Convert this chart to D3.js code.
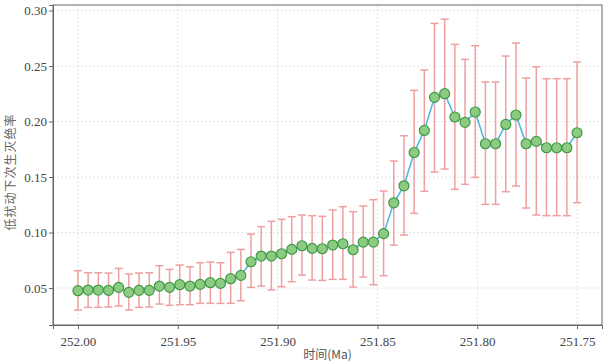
<!DOCTYPE html>
<html>
<head>
<meta charset="utf-8">
<script src="https://cdn.jsdelivr.net/npm/d3@7"></script>
<style>
  body { margin: 0; background: #fff; }
  svg { display: block; }
</style>
</head>
<body>
<div id="chart_root"></div>
<script>
// time (Ma), mean rate and error bar bounds
const times = [252.0000, 251.9949, 251.9898, 251.9847, 251.9796, 251.9745, 251.9694, 251.9643, 251.9592, 251.9541,
    251.9490, 251.9439, 251.9388, 251.9337, 251.9286, 251.9235, 251.9184, 251.9133, 251.9082, 251.9031,
    251.8980, 251.8929, 251.8878, 251.8827, 251.8776, 251.8724, 251.8673, 251.8622, 251.8571, 251.8520,
    251.8469, 251.8418, 251.8367, 251.8316, 251.8265, 251.8214, 251.8163, 251.8112, 251.8061, 251.8010,
    251.7959, 251.7908, 251.7857, 251.7806, 251.7755, 251.7704, 251.7653, 251.7602, 251.7551, 251.7500];
const rates = [0.0476, 0.0482, 0.0482, 0.0479, 0.0506, 0.0461, 0.0479, 0.0479, 0.0518, 0.0506,
    0.0530, 0.0518, 0.0533, 0.0548, 0.0542, 0.0584, 0.0614, 0.0737, 0.0788, 0.0788,
    0.0809, 0.0848, 0.0881, 0.0857, 0.0854, 0.0887, 0.0899, 0.0845, 0.0914, 0.0914,
    0.0990, 0.1268, 0.1421, 0.1721, 0.1920, 0.2218, 0.2251, 0.2041, 0.1993, 0.2086,
    0.1800, 0.1800, 0.1974, 0.2059, 0.1800, 0.1821, 0.1764, 0.1764, 0.1764, 0.1899];
const upper = [0.0656, 0.0638, 0.0638, 0.0635, 0.0677, 0.0626, 0.0635, 0.0638, 0.0701, 0.0668,
    0.0707, 0.0692, 0.0728, 0.0734, 0.0728, 0.0821, 0.0848, 0.0986, 0.1053, 0.1101,
    0.1119, 0.1143, 0.1158, 0.1152, 0.1146, 0.1203, 0.1233, 0.1188, 0.1239, 0.1296,
    0.1374, 0.1644, 0.1872, 0.2281, 0.2464, 0.2884, 0.2923, 0.2695, 0.2560, 0.2683,
    0.2356, 0.2356, 0.2590, 0.2707, 0.2392, 0.2494, 0.2386, 0.2386, 0.2386, 0.2536];
const lower = [0.0302, 0.0326, 0.0326, 0.0329, 0.0338, 0.0302, 0.0326, 0.0329, 0.0356, 0.0344,
    0.0350, 0.0350, 0.0362, 0.0362, 0.0362, 0.0362, 0.0386, 0.0506, 0.0518, 0.0482,
    0.0512, 0.0557, 0.0617, 0.0572, 0.0569, 0.0578, 0.0578, 0.0509, 0.0599, 0.0530,
    0.0611, 0.0886, 0.0977, 0.1173, 0.1371, 0.1545, 0.1572, 0.1389, 0.1434, 0.1497,
    0.1254, 0.1254, 0.1368, 0.1419, 0.1221, 0.1158, 0.1152, 0.1152, 0.1152, 0.1269];
const xTicks = [252.00, 251.95, 251.90, 251.85, 251.80, 251.75];
const yTicks = [0.05, 0.10, 0.15, 0.20, 0.25, 0.30];

const margin = { top: 5, right: 5, bottom: 39, left: 53 };
const width = 607 - margin.left - margin.right;
const height = 364 - margin.top - margin.bottom;
const serif = "'Liberation Serif', 'DejaVu Serif', serif";
const cjk = "'Noto Sans CJK SC', sans-serif";

const data = times.map((t, i) => ({ t: t, v: rates[i], lo: lower[i], hi: upper[i] }));

const svg = d3.select("#chart_root")
    .append("svg")
    .attr("width", 607)
    .attr("height", 364)
    .append("g")
    .attr("transform", "translate(" + margin.left + "," + margin.top + ")");

// reversed time axis
const x = d3.scaleLinear()
    .domain([252.0125, 251.7375])
    .range([0, width]);
const y = d3.scaleLinear()
    .domain([0.0167, 0.3050])
    .range([height, 0]);

// dashed grid
svg.append("g")
    .selectAll("line.gy")
    .data(yTicks)
    .enter()
    .append("line")
    .attr("x1", 0).attr("x2", width)
    .attr("y1", d => y(d)).attr("y2", d => y(d))
    .attr("stroke", "#dcdcdc")
    .attr("stroke-dasharray", "2,2")
    .attr("stroke-width", 0.8);
svg.append("g")
    .selectAll("line.gx")
    .data(xTicks)
    .enter()
    .append("line")
    .attr("y1", 0).attr("y2", height)
    .attr("x1", d => x(d)).attr("x2", d => x(d))
    .attr("stroke", "#dcdcdc")
    .attr("stroke-dasharray", "2,2")
    .attr("stroke-width", 0.8);

// error bars
const capW = 4;
const err = svg.append("g")
    .attr("stroke", "#ef9f9f")
    .attr("stroke-width", 1.5);
err.selectAll("line.v")
    .data(data)
    .enter()
    .append("line")
    .attr("x1", d => x(d.t)).attr("x2", d => x(d.t))
    .attr("y1", d => y(d.lo)).attr("y2", d => y(d.hi));
err.selectAll("line.top")
    .data(data)
    .enter()
    .append("line")
    .attr("x1", d => x(d.t) - capW).attr("x2", d => x(d.t) + capW)
    .attr("y1", d => y(d.hi)).attr("y2", d => y(d.hi));
err.selectAll("line.bot")
    .data(data)
    .enter()
    .append("line")
    .attr("x1", d => x(d.t) - capW).attr("x2", d => x(d.t) + capW)
    .attr("y1", d => y(d.lo)).attr("y2", d => y(d.lo));

// line
svg.append("path")
    .datum(data)
    .attr("fill", "none")
    .attr("stroke", "#4fb9e6")
    .attr("stroke-width", 1.6)
    .attr("d", d3.line().x(d => x(d.t)).y(d => y(d.v)));

// markers
svg.append("g")
    .selectAll("circle")
    .data(data)
    .enter()
    .append("circle")
    .attr("cx", d => x(d.t))
    .attr("cy", d => y(d.v))
    .attr("r", 5)
    .style("fill", "#8dcb82")
    .style("stroke", "#3f9a45")
    .style("stroke-width", 1.2);

// frame
svg.append("rect")
    .attr("width", width)
    .attr("height", height)
    .attr("fill", "none")
    .attr("stroke", "#666")
    .attr("stroke-width", 1);

// axes
const xAxis = svg.append("g")
    .attr("transform", "translate(0," + height + ")")
    .call(d3.axisBottom(x).tickValues(xTicks).tickFormat(d3.format(".2f")).tickSizeOuter(0).tickSize(4));
const yAxis = svg.append("g")
    .call(d3.axisLeft(y).tickValues(yTicks).tickFormat(d3.format(".2f")).tickSizeOuter(0).tickSize(4));
[xAxis, yAxis].forEach(a => {
    a.select(".domain").attr("stroke", "#666");
    a.selectAll(".tick line").attr("stroke", "#666");
    a.selectAll(".tick text")
        .attr("fill", "#444")
        .style("font-family", serif)
        .style("font-size", "13px");
});
xAxis.selectAll(".tick text").attr("dy", "1.05em");
yAxis.selectAll(".tick text").attr("x", -6);

svg.append("text")
    .attr("text-anchor", "middle")
    .attr("x", width / 2)
    .attr("y", height + 34)
    .style("font-family", cjk)
    .style("font-size", "12px")
    .attr("fill", "#555")
    .text("时间(Ma)");

svg.append("text")
    .attr("text-anchor", "middle")
    .attr("transform", "translate(" + (-38) + "," + (167) + ") rotate(-90)")
    .style("font-family", cjk)
    .style("font-size", "12px")
    .style("letter-spacing", "1px")
    .attr("fill", "#666")
    .text("低扰动下次生灭绝率");
</script>
</body>
</html>
